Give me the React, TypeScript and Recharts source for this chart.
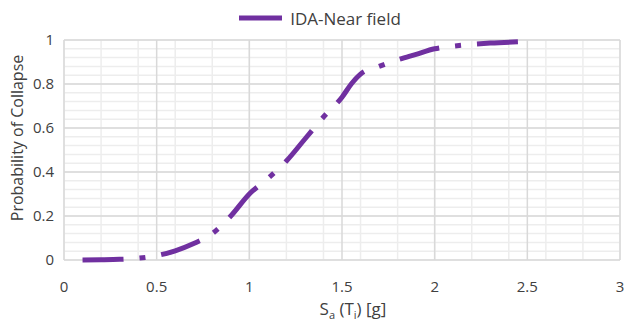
import React from 'react';
import { LineChart, Line, XAxis, YAxis, CartesianGrid, Legend, Label } from 'recharts';

const sa = [0.1, 0.2, 0.3, 0.4, 0.5, 0.6, 0.7, 0.8, 0.9, 1.0, 1.1, 1.2, 1.3, 1.4, 1.5, 1.55, 1.6, 1.7, 1.8, 1.9, 2.0, 2.1, 2.2, 2.3, 2.46];
const pCollapse = [0, 0.001, 0.003, 0.008, 0.02, 0.042, 0.075, 0.12, 0.2, 0.3, 0.37, 0.45, 0.55, 0.65, 0.74, 0.8, 0.845, 0.88, 0.91, 0.935, 0.96, 0.972, 0.98, 0.986, 0.992];

const xTicks = [0, 0.5, 1, 1.5, 2, 2.5, 3];
const yTicks = [0, 0.2, 0.4, 0.6, 0.8, 1];
const xMinor = [0, 0.1, 0.2, 0.3, 0.4, 0.5, 0.6, 0.7, 0.8, 0.9, 1, 1.1, 1.2, 1.3, 1.4, 1.5, 1.6, 1.7, 1.8, 1.9, 2, 2.1, 2.2, 2.3, 2.4, 2.5, 2.6, 2.7, 2.8, 2.9, 3];
const yMinor = [0, 0.04, 0.08, 0.12, 0.16, 0.2, 0.24, 0.28, 0.32, 0.36, 0.4, 0.44, 0.48, 0.52, 0.56, 0.6, 0.64, 0.68, 0.72, 0.76, 0.8, 0.84, 0.88, 0.92, 0.96, 1];

const data = sa.map((x, i) => ({ x, p: pCollapse[i] }));

const FONT = '"Open Sans", sans-serif';
const PURPLE = '#7030a0';
const TEXT = '#404040';

function LegendBox() {
  return (
    <div style={{ height: 24, display: 'flex', alignItems: 'center', justifyContent: 'center', fontFamily: FONT, fontSize: 17, color: TEXT }}>
      <svg width={43} height={6} style={{ marginRight: 8, marginLeft: -4 }}>
        <line x1={0} y1={3} x2={43} y2={3} stroke={PURPLE} strokeWidth={5} />
      </svg>
      <span>IDA-Near field</span>
    </div>
  );
}

function XTitle(props: any) {
  const vb = props.viewBox || {};
  const cx = vb.x + vb.width / 2 + 11;
  return (
    <text x={cx} y={315} textAnchor="middle" fontFamily={FONT} fontSize={17} fill={TEXT}>
      <tspan>S</tspan>
      <tspan fontSize={11} dy={4}>a</tspan>
      <tspan dy={-4}> (T</tspan>
      <tspan fontSize={11} dy={4}>i</tspan>
      <tspan dy={-4}>) [g]</tspan>
    </text>
  );
}

function YTitle() {
  return (
    <text x={23} y={138} transform="rotate(-90 23 138)" textAnchor="middle" fontFamily={FONT} fontSize={16} fill={TEXT}>
      Probability of Collapse
    </text>
  );
}

export default function App() {
  return (
    <div style={{ position: 'absolute', left: 0, top: 0, width: 624, height: 325, background: '#fff' }}>
      <LineChart width={624} height={325} data={data} margin={{ top: 16, right: 4, bottom: 15, left: 24 }}>
        <XAxis xAxisId="minor" type="number" dataKey="x" domain={[0, 3]} ticks={xMinor} hide />
        <YAxis yAxisId="minor" type="number" dataKey="p" domain={[0, 1]} ticks={yMinor} interval={0} hide />
        <CartesianGrid xAxisId="minor" horizontal={false} stroke="#ededed" strokeWidth={1.5} />
        <CartesianGrid yAxisId="minor" vertical={false} stroke="#ededed" strokeWidth={1.5} />
        <CartesianGrid stroke="#d9d9d9" strokeWidth={1.5} />
        <XAxis
          type="number"
          dataKey="x"
          domain={[0, 3]}
          ticks={xTicks}
          axisLine={false}
          tickLine={false}
          tickSize={0}
          tickMargin={21}
          height={50}
          tick={{ fontFamily: FONT, fontSize: 15, fill: TEXT }}
        >
          <Label content={XTitle} />
        </XAxis>
        <YAxis
          type="number"
          domain={[0, 1]}
          ticks={yTicks}
          axisLine={false}
          tickLine={false}
          tickSize={0}
          tickMargin={10}
          width={40}
          tick={{ fontFamily: FONT, fontSize: 15, fill: TEXT }}
        >
          <Label content={YTitle} />
        </YAxis>
        <Legend verticalAlign="top" content={<LegendBox />} wrapperStyle={{ top: 6 }} />
        <Line
          type="monotone"
          dataKey="p"
          stroke={PURPLE}
          strokeWidth={5}
          strokeDasharray="41 16 6 16"
          dot={false}
          isAnimationActive={false}
        />
      </LineChart>
    </div>
  );
}
